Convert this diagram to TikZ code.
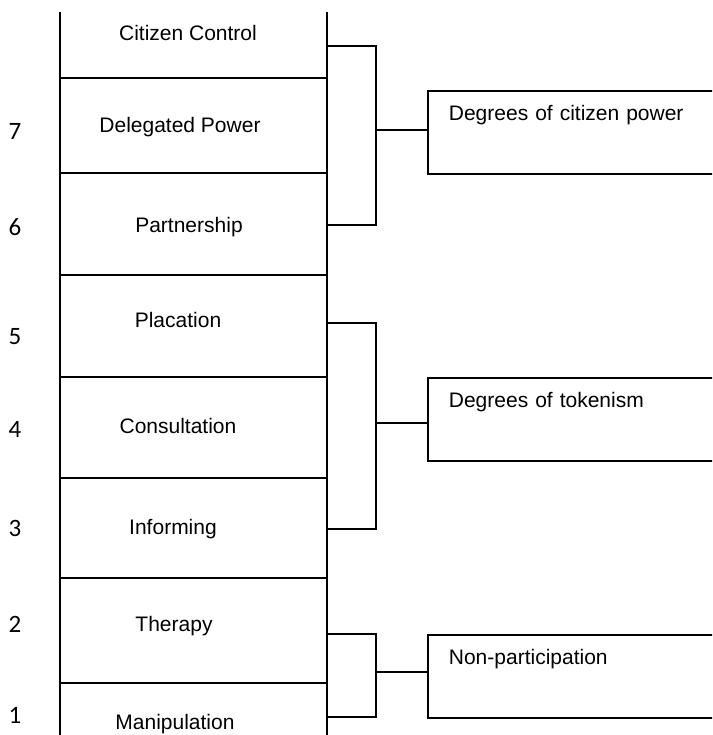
\documentclass[tikz,border=0pt]{standalone}
\usepackage{fontspec}
\setmainfont{Liberation Sans}
\newfontfamily\numfont{Carlito}

\begin{document}
\begin{tikzpicture}[x=1pt,y=-1pt,line width=1.8pt,
	rung/.style={anchor=base,inner sep=0pt,font=\fontsize{21}{25}\selectfont},
	level/.style={anchor=base,inner sep=0pt,font=\numfont\fontsize{25}{30}\selectfont},
	groupbox/.style={draw,anchor=north west,align=left,text width=380pt,inner xsep=21pt,inner ysep=0pt,
		text height=30pt,text depth=53pt,font=\fontsize{21}{25}\selectfont}]
	\useasboundingbox (0,0) rectangle (712,735);
	\clip (0,0) rectangle (712,735);
	
	\draw (60,12) -- (60,745);
	\draw (327,12) -- (327,745);
	\draw (60,78) -- (327,78);
	\draw (60,173) -- (327,173);
	\draw (60,275) -- (327,275);
	\draw (60,377) -- (327,377);
	\draw (60,478) -- (327,478);
	\draw (60,578) -- (327,578);
	\draw (60,683) -- (327,683);
	
	\node[rung] (control) at (188,41) {Citizen Control};
	\node[rung] (delegated) at (180,133) {Delegated Power};
	\node[rung] (partner) at (189,233) {Partnership};
	\node[rung] (placation) at (178,327) {Placation};
	\node[rung] (consult) at (178,433) {Consultation};
	\node[rung] (inform) at (173,534) {Informing};
	\node[rung] (therapy) at (174,631) {Therapy};
	\node[rung] (manip) at (175,729) {Manipulation};
	
	\node[level] (n7) at (15,140) {7};
	\node[level] (n6) at (15,235) {6};
	\node[level] (n5) at (15,344) {5};
	\node[level] (n4) at (15,437) {4};
	\node[level] (n3) at (15,536) {3};
	\node[level] (n2) at (15,632) {2};
	\node[level] (n1) at (15,723) {1};
	
	\node[groupbox] (power) at (427,90) {Degrees of citizen power};
	\node[groupbox] (token) at (427,377) {Degrees of tokenism};
	\node[groupbox] (nonpart) at (427,634) {Non-participation};
	
	\coordinate (power top) at (327,46);
	\coordinate (power bot) at (327,225);
	\coordinate (power mid) at (376,130);
	\draw (power top) -| (power mid) |- (power bot);
	\draw (power mid) -- (power mid -| power.west);
	
	\coordinate (token top) at (327,323);
	\coordinate (token bot) at (327,529);
	\coordinate (token mid) at (376,423);
	\draw (token top) -| (token mid) |- (token bot);
	\draw (token mid) -- (token mid -| token.west);
	
	\coordinate (nonpart top) at (327,634);
	\coordinate (nonpart bot) at (327,717);
	\coordinate (nonpart mid) at (376,672);
	\draw (nonpart top) -| (nonpart mid) |- (nonpart bot);
	\draw (nonpart mid) -- (nonpart mid -| nonpart.west);
	
\end{tikzpicture}
\end{document}
